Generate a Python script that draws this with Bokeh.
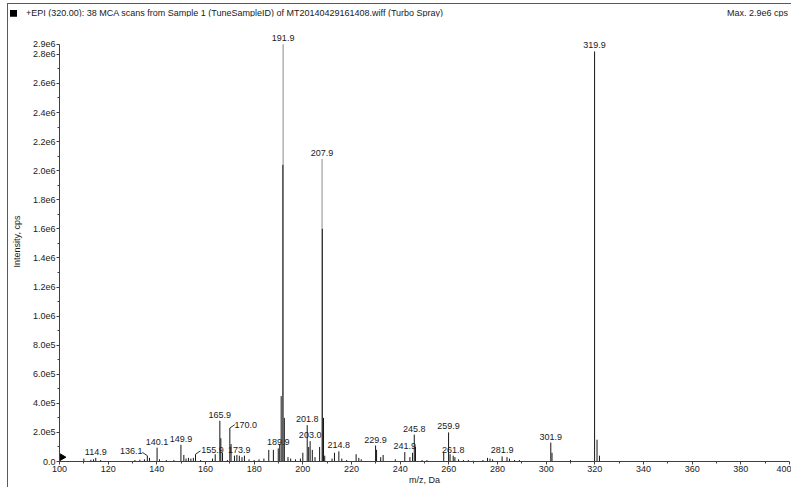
from bokeh.plotting import figure
from bokeh.models import Range1d, FixedTicker, ColumnDataSource, Div
from bokeh.layouts import column
from bokeh.core.properties import value
from bokeh.embed import file_html
from bokeh.resources import INLINE
import math

# ---------------- data ----------------
title_text = "+EPI (320.00): 38 MCA scans from Sample 1 (TuneSampleID) of MT20140429161408.wiff (Turbo Spray)"
max_text = "Max. 2.9e6 cps"
x_title = "m/z, Da"
y_title = "Intensity, cps"

# stick (profile) spectrum: m/z and intensity (cps)
mz = [110.0, 112.9, 114.0, 114.9, 116.9, 131.0, 133.0, 134.9, 136.1, 137.0,
      140.1, 141.1, 143.9, 147.0, 149.9, 151.1, 152.0, 153.0, 154.0, 155.0,
      155.9, 158.0, 162.9, 164.0, 165.9, 166.3, 167.0, 169.0, 170.0, 170.5,
      171.9, 172.9, 173.9, 175.0, 176.0, 177.9, 180.0, 182.0, 184.0, 186.0,
      187.9, 189.9, 190.5, 191.1, 191.8, 192.4, 193.9, 195.0, 197.0, 199.0,
      200.0, 201.8, 202.4, 203.0, 203.9, 205.0, 206.9, 208.0, 208.5, 209.0,
      212.0, 213.0, 214.8, 216.0, 218.0, 221.9, 223.0, 224.0, 229.9, 230.3,
      232.0, 233.0, 238.0, 241.9, 244.0, 245.1, 245.8, 246.3, 249.0, 251.0,
      257.9, 259.9, 260.5, 261.8, 262.5, 264.0, 266.0, 268.0, 270.0, 274.0,
      275.9, 276.9, 278.0, 281.9, 283.9, 284.9, 287.0, 289.0, 301.9, 302.4,
      310.0, 319.9, 320.9, 321.9]
intensity = [2.0e4, 1.2e4, 1.5e4, 2.5e4, 1.0e4, 1.0e4, 1.2e4, 1.5e4, 4.0e4, 2.5e4,
             9.5e4, 1.5e4, 1.0e4, 1.0e4, 1.15e5, 4.5e4, 2.0e4, 2.5e4, 2.0e4, 2.5e4,
             5.0e4, 1.0e4, 2.0e4, 5.0e4, 2.8e5, 1.6e5, 6.0e4, 1.0e4, 2.3e5, 1.2e5,
             4.0e4, 4.5e4, 4.0e4, 3.0e4, 4.0e4, 1.5e4, 1.0e4, 1.5e4, 2.0e4, 8.0e4,
             8.0e4, 9.0e4, 1.2e5, 4.5e5, 2.04e6, 3.0e5, 3.0e4, 2.0e4, 1.5e4, 2.0e4,
             6.0e4, 2.5e5, 1.0e5, 1.4e5, 8.0e4, 3.0e4, 1.0e5, 1.6e6, 3.0e5, 4.0e4,
             2.0e4, 6.0e4, 7.0e4, 2.0e4, 1.0e4, 5.0e4, 2.5e4, 1.5e4, 1.1e5, 8.0e4,
             3.0e4, 4.5e4, 1.5e4, 6.5e4, 3.0e4, 6.0e4, 1.85e5, 1.0e5, 1.0e4, 1.0e4,
             6.0e4, 2.0e5, 5.0e4, 4.0e4, 3.0e4, 1.5e4, 1.0e4, 1.0e4, 5.0e3, 1.0e4,
             2.5e4, 2.0e4, 1.5e4, 3.5e4, 3.0e4, 2.0e4, 1.0e4, 1.0e4, 1.3e5, 6.0e4,
             1.0e4, 2.82e6, 1.5e5, 4.0e4]

# apex points of the two tallest profile peaks (drawn lighter, as in the original trace)
apex_mz = [191.9, 207.9]
apex_int = [2.87e6, 2.08e6]

# labelled peaks
label_mz = [114.9, 136.1, 140.1, 149.9, 155.9, 165.9, 170.0, 173.9, 189.9, 191.9,
            201.8, 203.0, 207.9, 214.8, 229.9, 241.9, 245.8, 259.9, 261.8, 281.9,
            301.9, 319.9]
label_int = [2.5e4, 4.0e4, 9.5e4, 1.15e5, 5.0e4, 2.8e5, 2.3e5, 4.0e4, 9.0e4, 2.87e6,
             2.5e5, 1.4e5, 2.08e6, 7.0e4, 1.1e5, 6.5e4, 1.85e5, 2.0e5, 4.0e4, 3.5e4,
             1.3e5, 2.82e6]
label_text = ["114.9", "136.1", "140.1", "149.9", "155.9", "165.9", "170.0", "173.9",
              "189.9", "191.9", "201.8", "203.0", "207.9", "214.8", "229.9", "241.9",
              "245.8", "259.9", "261.8", "281.9", "301.9", "319.9"]
# labels drawn beside their peak with a leader line
leader_text = ["136.1", "155.9", "170.0"]

# precursor marker at the start of the axis
marker_mz = [100.0]
marker_int = [3.0e4]

x_start, x_end = 100, 400
x_ticks = [100, 120, 140, 160, 180, 200, 220, 240, 260, 280, 300, 320, 340, 360, 380, 400]
y_top = 2.87e6
y_ticks = [0, 2e5, 4e5, 6e5, 8e5, 1.0e6, 1.2e6, 1.4e6, 1.6e6, 1.8e6, 2.0e6, 2.2e6,
           2.4e6, 2.6e6, 2.8e6, y_top]
y_tick_labels = ["0.0", "2.0e5", "4.0e5", "6.0e5", "8.0e5", "1.0e6", "1.2e6", "1.4e6",
                 "1.6e6", "1.8e6", "2.0e6", "2.2e6", "2.4e6", "2.6e6", "2.8e6", "2.9e6"]

# ---------------- layout / style ----------------
FONT = "Liberation Sans"
FS = "9px"
W = 783
HEAD_H = 12
H = 471
TXT = "#1a1a1a"
AX = "#404040"
# per-label placement (screen px): dx, dy ; leader angle
leader_style = {"136.1": (-16, 1, 2.55), "155.9": (17, 2, 0.6), "170.0": (16, 3, 0.6)}

p = figure(width=W, height=H, output_backend="svg", toolbar_location=None,
           x_range=Range1d(x_start, x_end), y_range=Range1d(0, 3.026e6),
           min_border_left=46, min_border_right=2, min_border_top=5, min_border_bottom=25)
p.title.visible = False
p.outline_line_color = None
p.grid.visible = False
p.background_fill_color = "white"
p.border_fill_color = "white"

# sticks
p.segment(x0=apex_mz, y0=[0] * len(apex_mz), x1=apex_mz, y1=apex_int,
          line_color="#8c8c8c", line_width=1)
p.segment(x0=mz, y0=[0] * len(mz), x1=mz, y1=intensity, line_color="#151515", line_width=1)

# precursor marker
p.scatter(x=marker_mz, y=marker_int, marker="triangle", angle=-math.pi / 2, size=11,
          fill_color="black", line_color="black")

# peak labels
dx = [leader_style.get(t, (0, 0, 0))[0] for t in label_text]
dy = [-3 + leader_style.get(t, (0, 0, 0))[1] for t in label_text]
src = ColumnDataSource(dict(x=label_mz, y=label_int, t=label_text, dx=dx, dy=dy))
p.text(x="x", y="y", text="t", source=src, x_offset="dx", y_offset="dy",
       text_font=value(FONT), text_font_size=FS,
       text_color=TXT, text_align="center", text_baseline="bottom")

# leader lines
lx = [m for m, t in zip(label_mz, label_text) if t in leader_text]
ly = [v for v, t in zip(label_int, label_text) if t in leader_text]
la = [leader_style[t][2] for t in label_text if t in leader_text]
p.ray(x=lx, y=ly, length=6, length_units="screen", angle=la, line_color="#333333",
      line_width=1)

# axes
xa = p.xaxis[0]
xa.ticker = FixedTicker(ticks=x_ticks, minor_ticks=[t + 10 for t in x_ticks[:-1]])
xa.axis_label = x_title
xa.axis_label_standoff = 0
ya = p.yaxis[0]
ya.ticker = FixedTicker(ticks=y_ticks, minor_ticks=[t + 1e5 for t in y_ticks[:-2]])
ya.major_label_overrides = {t: s for t, s in zip(y_ticks, y_tick_labels)}
ya.bounds = (0, y_top)
ya.axis_label = y_title
ya.axis_label_standoff = 8
for ax in (xa, ya):
    ax.axis_line_color = AX
    ax.major_tick_line_color = AX
    ax.minor_tick_line_color = AX
    ax.major_tick_in = 0
    ax.major_tick_out = 3
    ax.minor_tick_in = 0
    ax.minor_tick_out = 2
    ax.major_label_text_font = FONT
    ax.major_label_text_font_size = FS
    ax.major_label_text_color = TXT
    ax.major_label_standoff = 1
    ax.axis_label_text_font = FONT
    ax.axis_label_text_font_size = FS
    ax.axis_label_text_font_style = "normal"
    ax.axis_label_text_color = TXT

# header row: instrument title on the left, maximum on the right
head_html = (
    f'<div style="font-family:\'{FONT}\';font-size:9px;color:{TXT};display:flex;'
    f'justify-content:space-between;align-items:center;width:{W - 3}px;height:{HEAD_H}px;'
    f'line-height:{HEAD_H}px;white-space:nowrap;">'
    f'<span><span style="display:inline-block;width:7px;height:7px;background:#000;'
    f'margin:0 9px 0 2px;vertical-align:-1px;"></span>{title_text}</span>'
    f'<span>{max_text}</span></div>'
)
head = Div(text=head_html, width=W, height=HEAD_H, margin=0)

page = column(head, p, spacing=0, margin=(3, 0, 0, 7),
              styles={"border-left": "1px solid #5a5a5a", "border-top": "1px solid #5a5a5a"})

open("out.html", "w").write(file_html(page, INLINE))
